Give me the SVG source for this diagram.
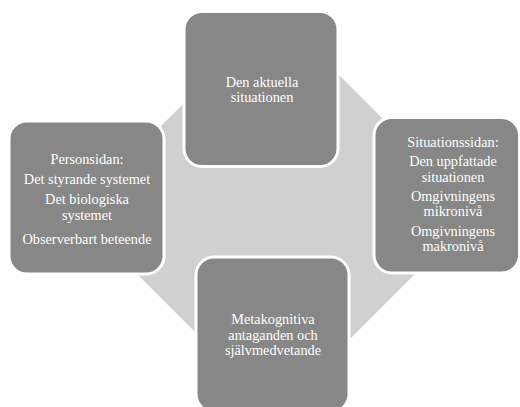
<svg xmlns="http://www.w3.org/2000/svg" width="520" height="407" viewBox="0 0 520 407">
  <style>
    .box { fill: #878787; stroke: #ffffff; stroke-width: 3; }
    .bg { fill: #d0d0d0; stroke: none; }
    .t { font-family: "Liberation Serif", "Times New Roman", serif; font-size: 14.3px; fill: #ffffff; text-anchor: middle; }
  </style>
  <rect width="520" height="407" fill="#ffffff"/>
  <g id="connectors">
    <polygon class="bg" points="247,40 304,40 430,166 430,259 309,380 243,380 100,237 100,187"/>
  </g>
  <g id="node-top">
    <rect class="box" x="184" y="11.5" width="154" height="155" rx="18" ry="18"/>
    <text class="t" x="262" y="86.5">Den aktuella</text>
    <text class="t" x="262" y="102">situationen</text>
  </g>
  <g id="node-left">
    <rect class="box" x="9" y="121" width="155" height="153" rx="18" ry="18"/>
    <text class="t" x="87" y="164">Personsidan:</text>
    <text class="t" x="87" y="184">Det styrande systemet</text>
    <text class="t" x="87" y="204">Det biologiska</text>
    <text class="t" x="87" y="220">systemet</text>
    <text class="t" x="87" y="243.5">Observerbart beteende</text>
  </g>
  <g id="node-right">
    <rect class="box" x="374" y="117.5" width="145.5" height="155.5" rx="18" ry="18"/>
    <text class="t" x="453" y="147">Situationssidan:</text>
    <text class="t" x="453" y="166">Den uppfattade</text>
    <text class="t" x="453" y="181.5">situationen</text>
    <text class="t" x="453" y="200.5">Omgivningens</text>
    <text class="t" x="453" y="216">mikronivå</text>
    <text class="t" x="453" y="235.5">Omgivningens</text>
    <text class="t" x="453" y="251">makronivå</text>
  </g>
  <g id="node-bottom">
    <rect class="box" x="196" y="257" width="153" height="155" rx="18" ry="18"/>
    <text class="t" x="273" y="324">Metakognitiva</text>
    <text class="t" x="273" y="339.5">antaganden och</text>
    <text class="t" x="273" y="355">självmedvetande</text>
  </g>
</svg>
